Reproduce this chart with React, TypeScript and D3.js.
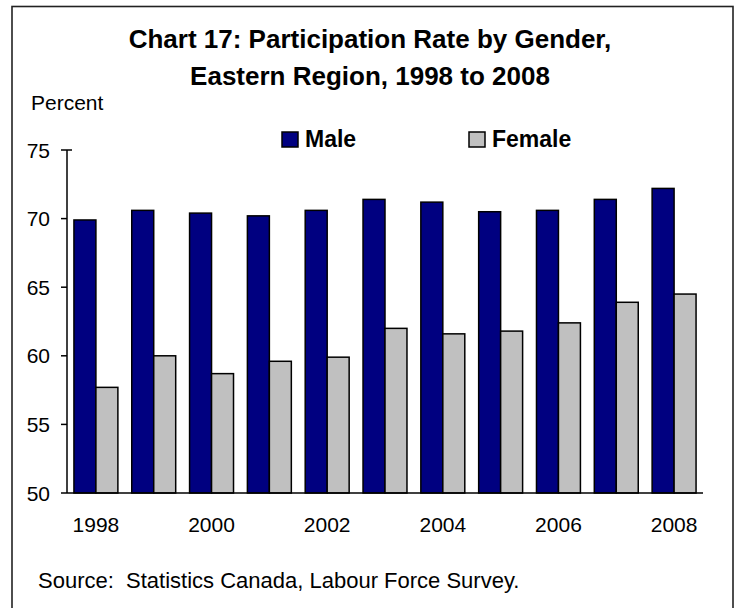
import React from "react";
import * as d3 from "d3";

const years = ["1998","1999","2000","2001","2002","2003","2004","2005","2006","2007","2008"];
const maleValues = [69.9, 70.6, 70.4, 70.2, 70.6, 71.4, 71.2, 70.5, 70.6, 71.4, 72.2];
const femaleValues = [57.7, 60.0, 58.7, 59.6, 59.9, 62.0, 61.6, 61.8, 62.4, 63.9, 64.5];
const seriesNames = ["Male", "Female"];
const seriesColors = ["#000080", "#C0C0C0"];
const yTicks = [50, 55, 60, 65, 70, 75];
const xTickLabels = ["1998", "2000", "2002", "2004", "2006", "2008"];
const titleLines = ["Chart 17: Participation Rate by Gender,", "Eastern Region, 1998 to 2008"];
const yAxisTitle = "Percent";
const sourceText = "Source:  Statistics Canada, Labour Force Survey.";

const W = 737;
const H = 608;
const FONT = "Arial, 'Liberation Sans', Helvetica, sans-serif";

export default function App() {
  const plotLeft = 67;
  const plotRight = 703;
  const plotTop = 150;
  const plotBottom = 493;

  const y = d3.scaleLinear().domain([50, 75]).range([plotBottom, plotTop]);
  const x0 = d3.scaleBand<string>().domain(years).range([plotLeft, plotRight]).paddingInner(0.24).paddingOuter(0.12);
  const x1 = d3.scaleBand<string>().domain(seriesNames).range([0, x0.bandwidth()]);
  const step = x0.step();
  const series = [maleValues, femaleValues];

  return (
    <svg width={W} height={H} style={{ position: "absolute", left: 0, top: 0, background: "#fff" }} fontFamily={FONT}>
      <rect x={0} y={0} width={W} height={H} fill="#fff" />
      <rect x={12} y={6.5} width={721} height={H + 10} fill="none" stroke="#222" strokeWidth={1.6} />

      {titleLines.map((t, i) => (
        <text key={i} x={370} y={48 + i * 37} textAnchor="middle" fontSize={26} fontWeight="bold" fill="#000">{t}</text>
      ))}

      <text x={31} y={110} fontSize={21} fill="#000">{yAxisTitle}</text>

      {/* legend */}
      {seriesNames.map((name, i) => {
        const lx = i === 0 ? 282 : 469;
        return (
          <g key={name}>
            <rect x={lx} y={132} width={16} height={15} fill={seriesColors[i]} stroke="#000" strokeWidth={1.5} />
            <text x={lx + 23} y={147} fontSize={23} fontWeight="bold" fill="#000">{name}</text>
          </g>
        );
      })}

      {/* bars */}
      {years.map((yr, i) => (
        <g key={yr}>
          {series.map((vals, s) => (
            <rect
              key={s}
              x={(x0(yr) as number) + (x1(seriesNames[s]) as number)}
              y={y(vals[i])}
              width={x1.bandwidth()}
              height={y(50) - y(vals[i])}
              fill={seriesColors[s]}
              stroke="#000"
              strokeWidth={1.5}
            />
          ))}
        </g>
      ))}

      {/* y axis */}
      <line x1={plotLeft} x2={plotLeft} y1={plotTop} y2={plotBottom} stroke="#000" strokeWidth={1.5} />
      {yTicks.map((t) => (
        <g key={t}>
          <line x1={plotLeft - 6} x2={t === 75 ? plotLeft + 5 : plotLeft} y1={y(t)} y2={y(t)} stroke="#000" strokeWidth={1.5} />
          <text x={plotLeft - 17} y={y(t) + 7.5} textAnchor="end" fontSize={21} fill="#000">{t}</text>
        </g>
      ))}

      {/* x axis */}
      <line x1={plotLeft} x2={plotRight} y1={plotBottom} y2={plotBottom} stroke="#000" strokeWidth={1.5} />
      {xTickLabels.map((lbl) => {
        const bx = (x0(lbl) as number) - x0.step() * x0.paddingInner() / 2 + step / 2;
        return (
          <text key={lbl} x={bx} y={532} textAnchor="middle" fontSize={21} fill="#000">{lbl}</text>
        );
      })}

      <text x={38} y={588} fontSize={22} fill="#000" style={{ whiteSpace: "pre" }}>{sourceText}</text>
    </svg>
  );
}
